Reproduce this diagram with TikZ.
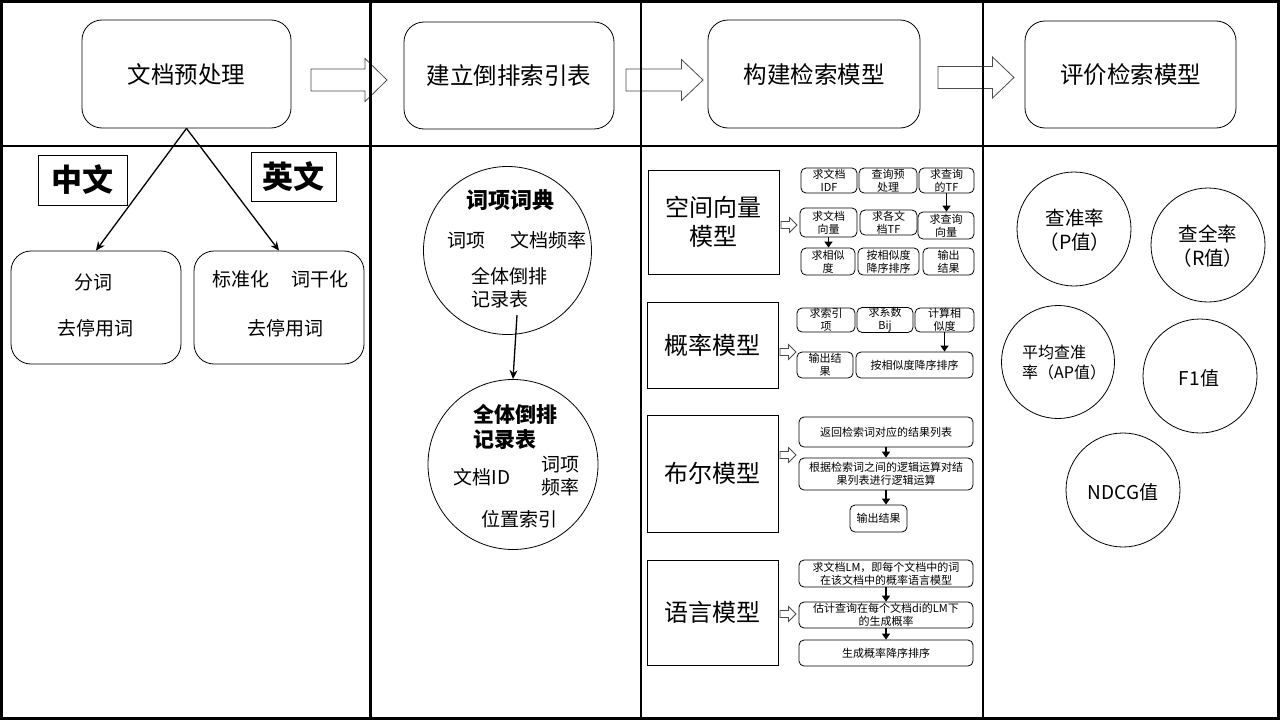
\documentclass[tikz,border=0pt]{standalone}
\usepackage{fontspec}
\setmainfont{Noto Sans CJK SC}
\usetikzlibrary{arrows.meta}

\newcommand\fsz[2]{\fontsize{#1pt}{#2pt}\selectfont}
% hollow block arrow: tail x, axis y, length, shaft half-height, head half-height, head length
\newcommand\hollowarrow[6]{%
  \draw[blockarrow] (#1,#2-#4) -- (#1+#3-#6,#2-#4) -- (#1+#3-#6,#2-#5) -- (#1+#3,#2)
    -- (#1+#3-#6,#2+#5) -- (#1+#3-#6,#2+#4) -- (#1,#2+#4) -- cycle;}

\tikzset{
  blockarrow/.style={draw=black!70, fill=white, line width=0.8pt, line join=miter},
  divider/.style={line width=2.6pt},
  topbox/.style={draw, line width=0.8pt, rounded corners=20pt, inner sep=0pt, font=\fsz{23.5}{28}},
  subbox/.style={draw, line width=0.8pt, rounded corners=20pt, inner sep=0pt, minimum width=170pt, minimum height=113pt},
  tagbox/.style={draw, line width=0.8pt, inner sep=0pt, font=\fsz{31}{36}\bfseries},
  modelbox/.style={draw, line width=1pt, inner sep=0pt, minimum width=131pt, align=center, font=\fsz{24}{29}},
  stepbox/.style={draw, line width=0.8pt, rounded corners=5pt, inner sep=0pt, align=center, font=\fsz{11}{13}},
  bubble/.style={draw, circle, line width=0.8pt, inner sep=0pt},
  txt/.style={inner sep=0pt, align=center, font=\fsz{19}{23}},
  ltxt/.style={inner sep=0pt, align=left, font=\fsz{19}{23}},
  thinarrow/.style={line width=1.3pt, -{Stealth[length=9pt,width=8pt]}},
  steparrow/.style={line width=1.7pt, -{Triangle[length=6pt,width=8pt]}},
}

\begin{document}
\begin{tikzpicture}[x=1pt,y=-1pt]
\useasboundingbox (0,0) rectangle (1280,720);

% ---------- top row: the four stages ----------
\node[topbox, minimum width=209pt, minimum height=108pt] (pre)   at (186.5,74)  {文档预处理};
\node[topbox, minimum width=210pt, minimum height=107pt] (inv)   at (509,75.5)  {建立倒排索引表};
\node[topbox, minimum width=212pt, minimum height=108pt] (build) at (814,74)    {构建检索模型};
\node[topbox, minimum width=211pt, minimum height=107pt] (eval)  at (1130.5,74.5) {评价检索模型};

\hollowarrow{311}{80}{76}{11}{21.5}{22}
\hollowarrow{626}{80}{77}{11}{20.5}{21.5}
\hollowarrow{938}{77.5}{76}{11}{20.5}{21.5}

% ---------- column 1: preprocessing ----------
\node[tagbox, minimum width=89pt, minimum height=50pt] (cntag) at (82.5,180)   {中文};
\node[tagbox, minimum width=85pt, minimum height=49pt] (entag) at (293.5,176.5) {英文};

\node[subbox] (cn) at (96,307.5) {};
\node[txt] (cn1) at (93,282) {分词};
\node[txt] (cn2) at (95,328) {去停用词};

\node[subbox] (en) at (279,307.5) {};
\node[txt] (en1) at (241,279) {标准化};
\node[txt] (en2) at (320,279) {词干化};
\node[txt] (en3) at (285,328) {去停用词};

\draw[thinarrow] (pre.south) -- (cn.north);
\draw[thinarrow] (pre.south) -- (en.north);

% ---------- column 2: inverted index ----------
\node[bubble, minimum size=168pt] (dict) at (507.5,250.5) {};
\node[txt, font=\fsz{22}{26}\bfseries] (dictT) at (510,200) {词项词典};
\node[txt] (dict1) at (466,241) {词项};
\node[txt] (dict2) at (548,240) {文档频率};
\node[ltxt, anchor=west] (dict3) at (471,288) {全体倒排\\记录表};

\node[bubble, minimum size=170pt] (post) at (513,464.5) {};
\node[ltxt, anchor=west, font=\fsz{21}{24.5}\bfseries] (postT) at (473,427) {全体倒排\\记录表};
\node[txt] (post1) at (482,477) {文档ID};
\node[ltxt, anchor=west] (post2) at (541,476.5) {词项\\频率};
\node[txt] (post3) at (519,519) {位置索引};

\coordinate (dictout) at (517,315);
\draw[thinarrow] (dictout) -- (post.north);

% ---------- column 3: retrieval models ----------
\node[modelbox, minimum height=104pt] (vsm)  at (713.5,222)   {空间向量\\模型};
\node[modelbox, minimum height=86pt]  (prob) at (712.5,345)   {概率模型};
\node[modelbox, minimum height=117pt] (bool) at (712.5,473.5) {布尔模型};
\node[modelbox, minimum height=105pt] (lm)   at (712.5,612.5) {语言模型};

\hollowarrow{781}{225}{16}{3.5}{7.5}{7.5}
\hollowarrow{780}{352}{16}{3.5}{7.5}{7.5}
\hollowarrow{780}{455}{16}{3.5}{7.5}{7.5}
\hollowarrow{780}{614}{16}{3.5}{7.5}{7.5}

% vector space model steps
\node[stepbox, minimum width=56pt, minimum height=25pt] (a1) at (829,180.5)   {求文档\\IDF};
\node[stepbox, minimum width=58pt, minimum height=25pt] (a2) at (888,180.5)   {查询预\\处理};
\node[stepbox, minimum width=55pt, minimum height=25pt] (a3) at (946.5,180.5) {求查询\\的TF};
\node[stepbox, minimum width=57pt, minimum height=29pt] (b1) at (828.5,222.5) {求文档\\向量};
\node[stepbox, minimum width=57pt, minimum height=25pt] (b2) at (888.5,222.5) {求各文\\档TF};
\node[stepbox, minimum width=56pt, minimum height=27pt] (b3) at (946,225.5)   {求查询\\向量};
\node[stepbox, minimum width=54pt, minimum height=27pt] (c1) at (828,261.5)   {求相似\\度};
\node[stepbox, minimum width=61pt, minimum height=27pt] (c2) at (888.5,261.5) {按相似度\\降序排序};
\node[stepbox, minimum width=51pt, minimum height=27pt] (c3) at (948.5,261.5) {输出\\结果};
\draw[steparrow] (a3.south) -- (a3.south |- b3.north);
\draw[steparrow] (b1.south) -- (b1.south |- c1.north);

% probabilistic model steps
\node[stepbox, minimum width=58pt, minimum height=24pt]  (p1) at (826,320)   {求索引\\项};
\node[stepbox, minimum width=56pt, minimum height=24pt]  (p2) at (885,320)   {求系数\\Bij};
\node[stepbox, minimum width=59pt, minimum height=24pt]  (p3) at (944.5,320) {计算相\\似度};
\node[stepbox, minimum width=56pt, minimum height=26pt]  (p4) at (825,365)   {输出结\\果};
\node[stepbox, minimum width=117pt, minimum height=26pt] (p5) at (914.5,365) {按相似度降序排序};
\draw[steparrow] (p3.south) -- (p3.south |- p5.north);

% boolean model steps
\node[stepbox, minimum width=174pt, minimum height=30pt] (q1) at (886,432)   {返回检索词对应的结果列表};
\node[stepbox, minimum width=174pt, minimum height=32pt] (q2) at (886,474)   {根据检索词之间的逻辑运算对结\\果列表进行逻辑运算};
\node[stepbox, minimum width=57pt, minimum height=27pt]  (q3) at (878.5,518.5) {输出结果};
\draw[steparrow] (q1.south) -- (q2.north);
\draw[steparrow] (q2.south) -- (q2.south |- q3.north);

% language model steps
\node[stepbox, minimum width=174pt, minimum height=27pt] (l1) at (886,573.5) {求文档LM，即每个文档中的词\\在该文档中的概率语言模型};
\node[stepbox, minimum width=174pt, minimum height=26pt] (l2) at (886,615)   {估计查询在每个文档di的LM下\\的生成概率};
\node[stepbox, minimum width=174pt, minimum height=26pt] (l3) at (886,653)   {生成概率降序排序};
\draw[steparrow] (l1.south) -- (l2.north);
\draw[steparrow] (l2.south) -- (l3.north);

% ---------- column 4: evaluation measures ----------
\node[bubble, minimum size=114pt] (prec) at (1074,229) {};
\node[txt, font=\fsz{19.5}{24}] (precT) at (1075,230) {查准率\\（P值）};
\node[bubble, minimum size=114pt] (rec) at (1208,245) {};
\node[txt, font=\fsz{19.5}{24}] (recT) at (1208,246) {查全率\\（R值）};
\node[bubble, minimum size=113pt] (ap) at (1058,362) {};
\node[ltxt, font=\fsz{16}{20}, anchor=west] (apT) at (1022,363) {平均查准\\率（AP值）};
\node[bubble, minimum size=114pt] (fone) at (1200,376) {};
\node[txt] (foneT) at (1199,378) {F1值};
\node[bubble, minimum size=114pt] (ndcg) at (1123,490) {};
\node[txt] (ndcgT) at (1123,492) {NDCG值};

% ---------- frame and dividers ----------
\draw[divider] (0,146) -- (1280,146);
\draw[divider] (370.5,0) -- (370.5,720);
\draw[divider] (641,0) -- (641,720);
\draw[divider] (983,0) -- (983,720);
\draw[divider] (1.3,1.3) rectangle (1278.7,718.7);
\end{tikzpicture}
\end{document}
